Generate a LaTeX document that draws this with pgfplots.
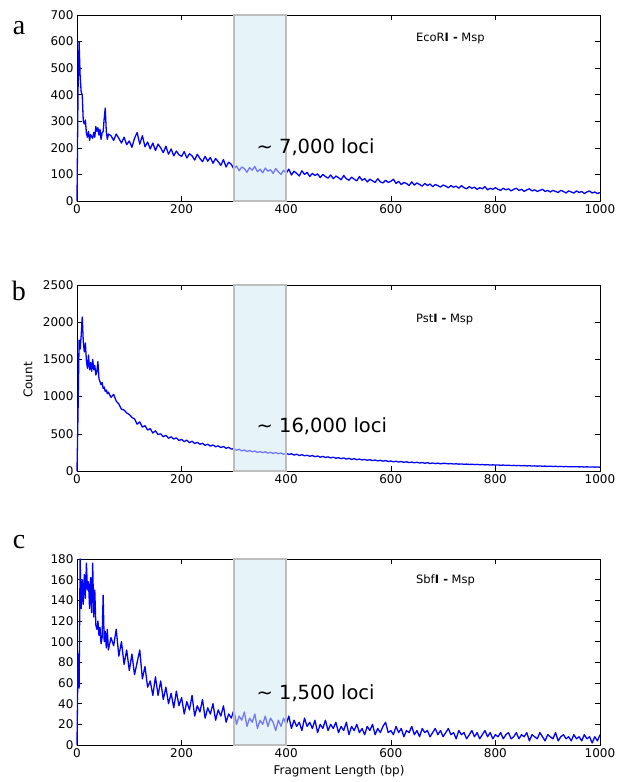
\documentclass[border=0pt]{standalone}
\usepackage{fontspec}
\setmainfont{DejaVu Sans}
\newfontfamily\serifabc{Liberation Serif}
\usepackage{pgfplots}
\pgfplotsset{compat=1.18}
\definecolor{boxfill}{RGB}{230,243,249}
\definecolor{boxedge}{RGB}{190,190,190}
\definecolor{lineblue}{RGB}{0,0,255}
\pgfplotsset{panel/.style={width=523pt,height=186pt,scale only axis,
  xmin=0,xmax=1000,ymin=0,xtick={0,200,...,1000},
  tick align=inside,major tick length=5pt,clip=false,
  axis line style={line width=0.8pt},tick style={black,line width=0.6pt},
  tick label style={font=\fontsize{12}{14}\selectfont},
  /pgf/number format/assume math mode=true,
  /pgf/number format/1000 sep={}}}
\begin{document}
\begin{tikzpicture}
% ---------------- panel a
\begin{axis}[panel,at={(0pt,0pt)},ymax=700,ytick={0,100,...,700}]
\addplot[draw=none,fill=boxfill] coordinates {(300,700)(400,700)} \closedcycle;
\addplot[lineblue,line width=1.3pt,line join=round] coordinates {
(0,0)(2,420)(4,600)(6,470)(8,410)(10,400)(12,300)(14,290)(16,305)(18,255)(20,240)(22,262)(24,228)(26,250)(28,242)(30,236)(32,258)(34,240)(36,280)(38,262)(40,276)(42,248)(44,270)(46,232)(48,256)(50,262)(52,310)(54,350)(56,262)(58,232)(60,252)
(65,246)(70,228)(75,252)(80,236)(85,218)(90,240)(95,212)(100,226)(105,202)(110,236)(115,258)(120,214)(125,246)(130,204)(135,222)(140,196)(145,218)(150,190)(155,214)(160,200)(165,182)(170,206)(175,176)(180,196)(185,170)(190,188)(195,174)(200,168)
(205,186)(210,162)(215,178)(220,170)(225,154)(230,176)(235,160)(240,148)(245,168)(250,150)(255,164)(260,142)(265,160)(270,148)(275,134)(280,156)(285,128)(290,146)(295,138)(300,120)
(305,132)(310,114)(315,128)(320,122)(325,108)(330,126)(335,116)(340,130)(345,110)(350,120)(355,106)(360,124)(365,112)(370,118)(375,104)(380,122)(385,110)(390,100)(395,116)(400,104)
(405,120)(410,98)(415,112)(420,104)(425,94)(430,114)(435,100)(440,108)(445,92)(450,104)(455,96)(460,102)(465,88)(470,100)(475,92)(480,86)(485,98)(490,84)(495,94)(500,88)
(505,80)(510,96)(515,84)(520,78)(525,90)(530,82)(535,76)(540,92)(545,78)(550,84)(555,72)(560,82)(565,76)(570,70)(575,84)(580,72)(585,68)(590,78)(595,70)(600,74)
(605,82)(610,66)(615,74)(620,62)(625,70)(630,66)(635,58)(640,72)(645,60)(650,68)(655,62)(660,56)(665,66)(670,58)(675,64)(680,54)(685,62)(690,58)(695,52)(700,60)
(705,56)(710,50)(715,58)(720,52)(725,56)(730,48)(735,58)(740,50)(745,46)(750,54)(755,48)(760,52)(765,44)(770,50)(775,46)(780,54)(785,42)(790,48)(795,44)(800,50)
(805,44)(810,40)(815,48)(820,42)(825,46)(830,38)(835,44)(840,48)(845,40)(850,44)(855,36)(860,42)(865,46)(870,38)(875,42)(880,36)(885,40)(890,44)(895,36)(900,40)
(905,34)(910,40)(915,36)(920,32)(925,40)(930,36)(935,30)(940,38)(945,34)(950,30)(955,38)(960,32)(965,36)(970,28)(975,34)(980,38)(985,30)(990,34)(995,28)(1000,32)};
\addplot[draw=boxedge,line width=1.6pt,fill=boxfill,fill opacity=0.5] coordinates {(300,700)(400,700)} \closedcycle;
\node[anchor=base west,inner sep=0pt,font=\fontsize{19.5}{22}\selectfont] at (axis cs:343,177) {\textasciitilde\ 7,000 loci};
\node[anchor=base west,inner sep=0pt,font=\fontsize{11.5}{13}\selectfont] at (axis cs:648,600) {EcoR\textbf{I -} Msp};
\end{axis}
% ---------------- panel b
\begin{axis}[panel,at={(0pt,-270pt)},ymax=2500,ytick={0,500,...,2500}]
\addplot[draw=none,fill=boxfill] coordinates {(300,2500)(400,2500)} \closedcycle;
\addplot[lineblue,line width=1.3pt,line join=round] coordinates {
(0,0)(2,800)(4,1760)(6,1640)(8,1820)(10,2070)(12,1740)(14,1600)(16,1720)(18,1480)(20,1380)(22,1560)(24,1360)(26,1460)(28,1340)(30,1500)(32,1360)(34,1420)(36,1290)(38,1340)(40,1470)(42,1240)(44,1200)(46,1160)(48,1190)(50,1110)(52,1130)(54,1070)(56,1090)(58,1040)(60,1060)
(65,990)(70,1030)(75,940)(80,900)(85,830)(90,820)(95,780)(100,760)(105,720)(110,700)(115,630)(120,660)(125,590)(130,610)(135,550)(140,570)(145,510)(150,540)(155,490)(160,500)(165,460)(170,480)(175,440)(180,460)(185,430)(190,445)(195,410)(200,425)
(205,395)(210,415)(215,380)(220,400)(225,370)(230,385)(235,360)(240,372)(245,345)(250,360)(255,335)(260,350)(265,325)(270,338)(275,315)(280,330)(285,305)(290,318)(295,295)(300,300)
(305,280)(310,292)(315,270)(320,282)(325,262)(330,276)(335,258)(340,268)(345,250)(350,262)(355,246)(360,258)(365,240)(370,252)(375,236)(380,248)(385,232)(390,242)(395,226)(400,238)
(405,222)(410,232)(415,214)(420,226)(425,208)(430,220)(435,204)(440,212)(445,198)(450,208)(455,192)(460,202)(465,186)(470,196)(475,182)(480,190)(485,176)(490,186)(495,172)(500,178)
(505,166)(510,176)(515,160)(520,170)(525,156)(530,166)(535,152)(540,160)(545,148)(550,156)(555,144)(560,152)(565,140)(570,148)(575,136)(580,144)(585,132)(590,140)(595,128)(600,134)
(605,124)(610,132)(615,120)(620,128)(625,116)(630,124)(635,113)(640,120)(645,110)(650,118)(655,107)(660,114)(665,104)(670,112)(675,101)(680,108)(685,99)(690,106)(695,96)(700,103)
(705,102)(710,96)(715,100)(720,94)(725,97)(730,92)(735,95)(740,90)(745,93)(750,88)(755,91)(760,86)(765,89)(770,84)(775,87)(780,82)(785,85)(790,80)(795,83)(800,79)
(805,81)(810,77)(815,80)(820,75)(825,78)(830,73)(835,76)(840,72)(845,74)(850,70)(855,73)(860,68)(865,71)(870,67)(875,69)(880,65)(885,68)(890,64)(895,66)(900,62)
(905,65)(910,61)(915,63)(920,59)(925,62)(930,58)(935,60)(940,57)(945,59)(950,56)(955,58)(960,55)(965,57)(970,54)(975,56)(980,53)(985,55)(990,52)(995,54)(1000,51)};
\addplot[draw=boxedge,line width=1.6pt,fill=boxfill,fill opacity=0.5] coordinates {(300,2500)(400,2500)} \closedcycle;
\node[anchor=base west,inner sep=0pt,font=\fontsize{19.5}{22}\selectfont] at (axis cs:343,516) {\textasciitilde\ 16,000 loci};
\node[anchor=base west,inner sep=0pt,font=\fontsize{11.5}{13}\selectfont] at (axis cs:648,2000) {Pst\textbf{I -} Msp};
\end{axis}
% ---------------- panel c
\begin{axis}[panel,at={(0pt,-544pt)},ymax=180,ytick={0,20,...,180}]
\addplot[draw=none,fill=boxfill] coordinates {(300,180)(400,180)} \closedcycle;
\addplot[lineblue,line width=1.3pt,line join=round] coordinates {
(0,0)(2,88)(4,55)(6,180)(8,132)(10,160)(12,136)(14,165)(16,142)(18,176)(20,150)(22,158)(24,132)(26,162)(28,128)(30,176)(32,124)(34,150)(36,116)(38,112)(40,120)(42,106)(44,114)(46,98)(48,104)(50,145)(52,100)(54,110)(56,94)(58,112)(60,92)
(65,104)(70,96)(75,112)(80,86)(85,100)(90,78)(95,92)(100,72)(105,88)(110,68)(115,80)(120,92)(125,64)(130,76)(135,56)(140,62)(145,48)(150,66)(155,48)(160,62)(165,44)(170,56)(175,40)(180,50)(185,36)(190,52)(195,38)(200,46)
(205,30)(210,42)(215,34)(220,48)(225,28)(230,38)(235,32)(240,44)(245,26)(250,36)(255,30)(260,40)(265,24)(270,34)(275,28)(280,38)(285,22)(290,30)(295,26)(300,34)
(305,20)(310,28)(315,24)(320,32)(325,18)(330,26)(335,22)(340,30)(345,16)(350,24)(355,20)(360,28)(365,18)(370,26)(375,22)(380,14)(385,24)(390,18)(395,26)(400,20)
(405,28)(410,16)(415,24)(420,18)(425,22)(430,14)(435,26)(440,18)(445,22)(450,16)(455,24)(460,12)(465,20)(470,16)(475,24)(480,14)(485,20)(490,16)(495,22)(500,12)
(505,18)(510,14)(515,22)(520,10)(525,18)(530,14)(535,20)(540,12)(545,16)(550,10)(555,18)(560,14)(565,20)(570,10)(575,16)(580,12)(585,18)(590,22)(595,12)(600,14)
(605,10)(610,18)(615,12)(620,16)(625,8)(630,14)(635,12)(640,18)(645,10)(650,14)(655,8)(660,16)(665,12)(670,14)(675,8)(680,12)(685,16)(690,10)(695,14)(700,8)
(705,12)(710,16)(715,10)(720,12)(725,6)(730,14)(735,10)(740,12)(745,6)(750,10)(755,14)(760,8)(765,12)(770,6)(775,10)(780,14)(785,8)(790,12)(795,6)(800,10)
(805,8)(810,12)(815,6)(820,10)(825,12)(830,6)(835,8)(840,12)(845,6)(850,10)(855,8)(860,12)(865,4)(870,10)(875,8)(880,6)(885,12)(890,8)(895,4)(900,10)
(905,8)(910,6)(915,12)(920,4)(925,8)(930,10)(935,6)(940,8)(945,4)(950,10)(955,6)(960,8)(965,4)(970,10)(975,6)(980,8)(985,2)(990,8)(995,4)(1000,10)};
\addplot[draw=boxedge,line width=1.6pt,fill=boxfill,fill opacity=0.5] coordinates {(300,180)(400,180)} \closedcycle;
\node[anchor=base west,inner sep=0pt,font=\fontsize{19.5}{22}\selectfont] at (axis cs:343,44) {\textasciitilde\ 1,500 loci};
\node[anchor=base west,inner sep=0pt,font=\fontsize{11.5}{13}\selectfont] at (axis cs:648,156) {Sbf\textbf{I -} Msp};
\end{axis}
% ---------------- outer labels
\node[anchor=base,inner sep=0pt,font=\serifabc\fontsize{28}{30}\selectfont] at (-58pt,166pt) {a};
\node[anchor=base,inner sep=0pt,font=\serifabc\fontsize{28}{30}\selectfont] at (-58pt,-99pt) {b};
\node[anchor=base,inner sep=0pt,font=\serifabc\fontsize{28}{30}\selectfont] at (-58pt,-347pt) {c};
\node[rotate=90,anchor=base,inner sep=0pt,font=\fontsize{12}{14}\selectfont] at (-44.5pt,-179pt) {Count};
\node[anchor=base,inner sep=0pt,font=\fontsize{12}{14}\selectfont] at (262pt,-573pt) {Fragment Length (bp)};
\pgfresetboundingbox
\path[use as bounding box] (-77pt,201pt) rectangle (544pt,-581pt);
\end{tikzpicture}
\end{document}
